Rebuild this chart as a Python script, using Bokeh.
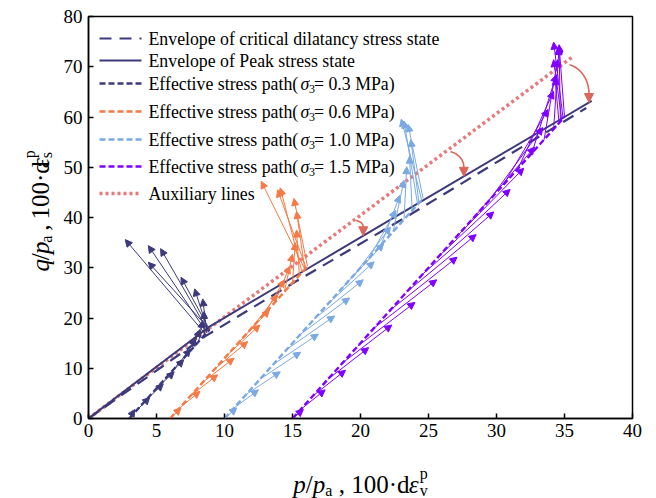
import math
import numpy as np
from bokeh.plotting import figure
from bokeh.layouts import row, column
from bokeh.models import Arrow, NormalHead, ColumnDataSource, Label, Range1d
from bokeh.core.properties import value
from bokeh.embed import file_html
from bokeh.resources import INLINE

# ---------------- data ----------------
x_ticks = [0, 5, 10, 15, 20, 25, 30, 35, 40]
y_ticks = [0, 10, 20, 30, 40, 50, 60, 70, 80]

# envelopes
crit_p = [0.0, 8.6, 15.2, 23.6, 34.6, 36.6]
crit_q = [0.0, 16.4, 27.2, 40.5, 58.5, 61.8]
peak_p = [0.0, 8.9, 16.1, 24.6, 35.0, 37.0]
peak_q = [0.0, 18.3, 29.8, 43.4, 60.0, 63.2]
aux_p = [0.0, 35.6]
aux_q = [0.0, 72.0]
# auxiliary arcs: start p on the auxiliary line, end p on the peak envelope
arc_start_p = [19.5, 26.3, 34.9]
arc_end_p = [20.2, 27.6, 36.8]

sigma3_labels = ["0.3", "0.6", "1.0", "1.5"]

# effective stress paths (p/pa, q/pa)
path1_p = [3.0, 8.9]
path1_q = [0.0, 17.7]
path2_p = [6.0, 16.1]
path2_q = [0.0, 30.3]
path3_p = [10.0, 24.6]
path3_q = [0.0, 43.8]
path4_p = [15.0, 35.0]
path4_q = [0.0, 60.0]

# plastic strain increment vectors: stress point (p, q) and 100*(d eps_v, d eps_s)
vec1_p = [3.0, 3.5, 4.2, 4.9, 5.6, 6.3, 7.0, 7.6, 8.1, 8.5, 8.7, 8.8, 8.9, 8.9, 8.8, 8.7, 8.6]
vec1_q = [0.0, 1.5, 3.6, 5.7, 7.8, 9.9, 12.0, 13.8, 15.3, 16.5, 17.1, 17.4, 17.7, 17.7, 17.4, 17.1, 16.8]
vec1_dv = [0.4, 1.0, 1.3, 1.4, 1.4, 1.2, 0.9, 0.6, 0.3, 0.0, -0.3, -1.0, -2.1, -4.5, -3.5, -4.3, -5.9]
vec1_ds = [1.8, 2.7, 3.3, 3.6, 3.9, 3.9, 3.9, 3.9, 4.2, 4.8, 6.7, 8.4, 10.4, 13.4, 16.4, 17.3, 18.8]

vec2_p = [6.0, 6.7, 7.5, 8.4, 9.3, 10.2, 11.1, 12.0, 12.9, 13.7, 14.4, 15.0, 15.5, 15.9, 16.1, 16.0, 15.9, 15.7]
vec2_q = [0.0, 2.1, 4.5, 7.2, 9.9, 12.6, 15.3, 18.0, 20.7, 23.1, 25.2, 27.0, 28.5, 29.7, 30.3, 30.0, 29.7, 29.1]
vec2_dv = [0.8, 1.5, 2.0, 2.3, 2.4, 2.4, 2.2, 1.9, 1.5, 1.1, 0.6, 0.2, -0.2, -0.6, -1.0, -2.1, -3.2, -1.6]
vec2_ds = [2.1, 3.3, 4.2, 4.8, 5.4, 6.0, 6.3, 6.6, 6.9, 7.2, 7.5, 8.0, 9.0, 11.5, 13.5, 15.5, 17.5, 16.8]

vec3_p = [10.0, 10.7, 11.6, 12.6, 13.6, 14.6, 15.6, 16.6, 17.6, 18.6, 19.6, 20.6, 21.5, 22.4, 23.2, 23.8, 24.3, 24.6, 24.5, 24.2]
vec3_q = [0.0, 2.1, 4.8, 7.8, 10.8, 13.8, 16.8, 19.8, 22.8, 25.8, 28.8, 31.8, 34.5, 37.2, 39.6, 41.4, 42.9, 43.8, 43.5, 42.6]
vec3_dv = [0.9, 1.8, 2.5, 3.0, 3.3, 3.5, 3.6, 3.6, 3.4, 3.1, 2.6, 2.0, 1.4, 0.8, 0.2, -0.2, -0.6, -1.1, -1.5, -1.0]
vec3_ds = [2.1, 3.6, 4.5, 5.4, 6.0, 6.6, 7.2, 7.8, 8.4, 9.0, 9.3, 9.6, 9.9, 10.2, 10.5, 10.8, 12.6, 14.7, 16.1, 16.6]

vec4_p = [15.0, 15.6, 16.5, 17.6, 18.7, 19.8, 21.0, 22.2, 23.4, 24.6, 25.8, 27.0, 28.2, 29.4, 30.5, 31.6, 32.6, 33.5, 34.2, 34.7, 35.0, 34.9, 34.8, 34.6]
vec4_q = [0.0, 1.8, 4.5, 7.8, 11.1, 14.4, 18.0, 21.6, 25.2, 28.8, 32.4, 36.0, 39.6, 43.2, 46.5, 49.8, 52.8, 55.5, 57.6, 59.1, 60.0, 59.7, 59.4, 58.8]
vec4_dv = [0.8, 1.8, 2.4, 3.0, 3.6, 4.2, 4.6, 4.9, 5.1, 5.2, 5.2, 5.0, 4.6, 4.0, 3.3, 2.6, 1.8, 1.0, 0.4, -0.1, -0.4, -0.7, -0.6, -0.3]
vec4_ds = [1.8, 3.9, 5.1, 6.3, 7.5, 8.7, 9.6, 10.5, 11.4, 12.3, 13.2, 13.8, 14.4, 14.7, 15.0, 15.3, 15.6, 15.9, 16.2, 15.0, 14.4, 15.2, 12.0, 9.0]

# ---------------- layout / style ----------------
W, H = 656, 498
YL_W = 58            # width of the strip holding the y-axis title
XL_H = 50            # height of the strip holding the x-axis title
FL, FR, FT, FB = 88, 632, 16, 418   # frame edges on the page
X0, X1, Y0, Y1 = 0, 40, 0, 80
kx = (FR - FL) / (X1 - X0)
ky = (FB - FT) / (Y1 - Y0)


def xd(px):
    return X0 + (px - FL) / kx


def yd(py):
    return Y0 + (FB - py) / ky


NAVY = "#3D3A7C"
ORANGE = "#F47A46"
LBLUE = "#7AA9E4"
PURPLE = "#7F00FF"
SALMON = "#E8797B"
ARCRED = "#DB6659"
FONT = "Liberation Serif"

MAIN_W, MAIN_H = W - YL_W, H - XL_H
p = figure(width=MAIN_W, height=MAIN_H, x_range=(X0, X1), y_range=(Y0, Y1),
           output_backend="svg", toolbar_location=None,
           min_border_left=FL - YL_W, min_border_right=W - FR,
           min_border_top=FT, min_border_bottom=MAIN_H - FB)
p.background_fill_color = "white"
p.border_fill_color = "white"
p.outline_line_color = "black"
p.outline_line_width = 1.5
p.xgrid.visible = False
p.ygrid.visible = False
p.xaxis.ticker = x_ticks
p.yaxis.ticker = y_ticks
for ax in (p.xaxis[0], p.yaxis[0]):
    ax.major_tick_in = 5
    ax.major_tick_out = 0
    ax.minor_tick_line_color = None
    ax.axis_line_width = 1.5
    ax.major_tick_line_width = 1.5
    ax.major_label_text_font = FONT
    ax.major_label_text_font_size = "19px"
    ax.major_label_text_color = "black"
    ax.axis_line_color = "black"
    ax.major_tick_line_color = "black"
p.xaxis.major_label_standoff = 5
p.yaxis.major_label_standoff = 6

# envelopes and auxiliary line
p.line(aux_p, aux_q, line_color=SALMON, line_width=3.5, line_dash="3 3")
p.line(crit_p, crit_q, line_color=NAVY, line_width=2.2, line_dash="12 8")
p.line(peak_p, peak_q, line_color=NAVY, line_width=2.0)

# auxiliary curved arrows from the auxiliary line down to the peak envelope
head_len = 9 / ky
for sp, ep in zip(arc_start_p, arc_end_p):
    sq = float(np.interp(sp, aux_p, aux_q))
    eq = float(np.interp(ep, peak_p, peak_q))
    t = np.linspace(0.25, math.pi / 2, 40)
    xs = sp + (ep - sp) * np.sin(t)
    ys = (eq + head_len) + (sq - eq - head_len) * np.cos(t)
    p.line(list(xs), list(ys), line_color=ARCRED, line_width=1.6)
    p.add_layout(Arrow(end=NormalHead(size=9, fill_color=ARCRED, line_color=ARCRED),
                       x_start=ep, y_start=eq + head_len, x_end=ep, y_end=eq,
                       line_color=ARCRED, line_width=1.6))

# stress paths and vectors
paths = [(path1_p, path1_q, vec1_p, vec1_q, vec1_dv, vec1_ds, NAVY),
         (path2_p, path2_q, vec2_p, vec2_q, vec2_dv, vec2_ds, ORANGE),
         (path3_p, path3_q, vec3_p, vec3_q, vec3_dv, vec3_ds, LBLUE),
         (path4_p, path4_q, vec4_p, vec4_q, vec4_dv, vec4_ds, PURPLE)]
for pp, pq, vp, vq, dv, ds, c in paths:
    p.line(pp, pq, line_color=c, line_width=2.4, line_dash="6 3")
    src = ColumnDataSource(dict(x0=vp, y0=vq,
                                x1=[a + b for a, b in zip(vp, dv)],
                                y1=[a + b for a, b in zip(vq, ds)]))
    p.add_layout(Arrow(end=NormalHead(size=7, fill_color=c, line_color=c, line_width=1),
                       x_start="x0", y_start="y0", x_end="x1", y_end="y1",
                       source=src, line_color=c, line_width=1.0))

# ---------------- legend ----------------
rows_y = [38, 60, 83, 111, 139, 166, 193]
LX0, LX1, TX = 99, 141, 148
LFS = "17.8px"
samples = [(NAVY, "12 8", 2.2), (NAVY, "solid", 2.0), (NAVY, "6 3", 2.4), (ORANGE, "6 3", 2.4),
           (LBLUE, "6 3", 2.4), (PURPLE, "6 3", 2.4), (SALMON, "3 3", 3.5)]
for (c, dash, lw), ry in zip(samples, rows_y):
    p.line([xd(LX0), xd(LX1)], [yd(ry), yd(ry)], line_color=c, line_dash=dash, line_width=lw)


def ltext(t, px, py, style="normal", size=LFS, baseline="middle"):
    p.add_layout(Label(x=xd(px), y=yd(py), text=t, text_font=FONT, text_font_style=style,
                       text_font_size=size, text_color="black", text_align="left",
                       text_baseline=baseline))


ltext("Envelope of critical dilatancy stress state", TX, rows_y[0])
ltext("Envelope of Peak stress state", TX, rows_y[1])
for s3, ry in zip(sigma3_labels, rows_y[2:6]):
    ltext("Effective stress path(", TX, ry)
    ltext("\u03c3", 300, ry, style="italic")
    ltext("3", 308.5, ry + 5, size="12px")
    ltext(f"= {s3} MPa)", 313.5, ry)
ltext("Auxiliary lines", TX, rows_y[6])

# ---------------- axis titles (rich text strips) ----------------
WID = {'0': .5, '1': .5, '.': .25, ' ': .25, ',': .25, '\u00b7': .25, 'd': .55,
       'a': .444, 's': .389, 'v': .5, 'p': .5, 'q': .5, '/': .278, '\u03b5': .44}


def tw(t, size):
    return sum(WID.get(ch, .5) for ch in t) * size


def strip(width, height):
    f = figure(width=width, height=height, x_range=Range1d(0, width), y_range=Range1d(height, 0),
               output_backend="svg", toolbar_location=None, min_border=0,
               x_axis_type=None, y_axis_type=None)
    f.outline_line_color = None
    f.background_fill_color = "white"
    f.border_fill_color = "white"
    return f


def layout_pieces(pieces, start, vertical):
    rows = dict(x=[], y=[], text=[], style=[], size=[])
    pos = start
    for grp in pieces:
        for t, st, s, sh in grp:
            if t.strip():
                rows["text"].append(t)
                rows["style"].append(st)
                rows["size"].append(f"{s}px")
                rows["x"].append(pos)
                rows["y"].append(sh)
        adv = max(tw(t, s) for t, _, s, _ in grp)
        pos += -adv if vertical else adv
    return rows


def total_len(pieces):
    return sum(max(tw(t, s) for t, _, s, _ in grp) for grp in pieces)


AX = 25
SUB = 16


def title_pieces(first, sub2):
    return [[(first, "italic", AX, 0)], [("/", "normal", AX, 0)], [("p", "italic", AX, 0)],
            [("a", "normal", SUB, -6)], [(" ", "normal", AX, 0)], [(",", "normal", AX, 0)],
            [(" ", "normal", AX, 0)], [("100\u00b7d", "normal", AX, 0)],
            [("\u03b5", "italic", AX, 0)],
            [("p", "normal", SUB, 11), (sub2, "normal", SUB, -6)]]


xlab = title_pieces("p", "v")
ylab = title_pieces("q", "s")

# x title: baseline at page y = 484
xs_fig = strip(W, XL_H)
r = layout_pieces(xlab, (FL + FR) / 2 - total_len(xlab) / 2, False)
r["y"] = [484 - MAIN_H - sh for sh in r["y"]]
xs_fig.text(x="x", y="y", text="text", source=ColumnDataSource(r), text_font=value(FONT),
            text_font_style="style", text_font_size="size", text_color="black",
            text_align="left", text_baseline="alphabetic")

# y title: rotated, baseline at page x = 40
ys_fig = strip(YL_W, MAIN_H)
r = layout_pieces(ylab, (FT + FB) / 2 + total_len(ylab) / 2, True)
r["x"], r["y"] = [40 - sh for sh in r["y"]], r["x"]
ys_fig.text(x="x", y="y", text="text", source=ColumnDataSource(r), text_font=value(FONT),
            text_font_style="style", text_font_size="size", text_color="black",
            text_align="left", text_baseline="alphabetic", angle=math.pi / 2)

page = column(row(ys_fig, p), xs_fig)
open("out.html", "w").write(file_html(page, INLINE))
